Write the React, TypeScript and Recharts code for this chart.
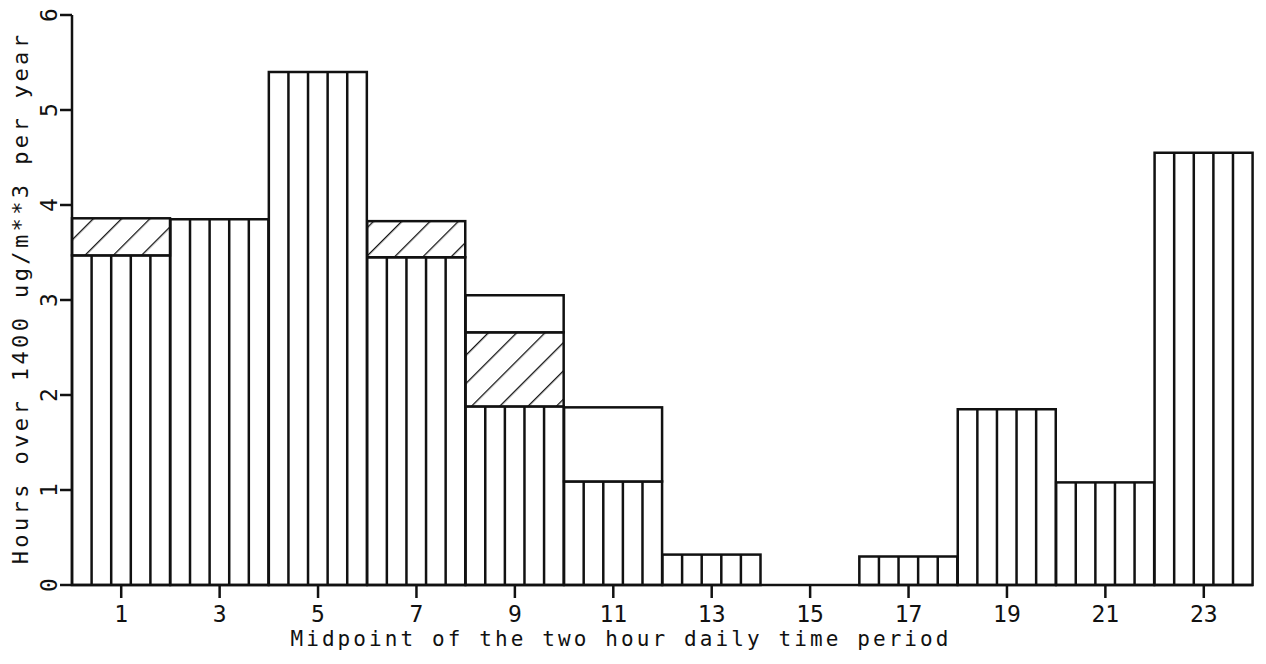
import { BarChart, Bar, XAxis, YAxis, Label } from "recharts";

// midpoints of the 2-hour periods
const hours = ["1", "3", "5", "7", "9", "11", "13", "15", "17", "19", "21", "23"];
// vertically striped base segment
const striped = [3.47, 3.85, 5.4, 3.45, 1.88, 1.09, 0.32, 0, 0.3, 1.85, 1.08, 4.55];
// diagonally hatched middle segment
const hatched = [0.39, 0, 0, 0.38, 0.78, 0, 0, 0, 0, 0, 0, 0];
// open (blank) top segment
const open = [0, 0, 0, 0, 0.39, 0.78, 0, 0, 0, 0, 0, 0];
const yTicks = [0, 1, 2, 3, 4, 5, 6];

const data = hours.map((h, i) => ({
  hour: h,
  striped: striped[i],
  hatched: hatched[i],
  open: open[i],
}));

const INK = "#111";
const SW = 2.5;
const FONT = "'DejaVu Sans Mono', 'Liberation Mono', monospace";

function StripedShape({ x, y, width, height }: any) {
  if (!height || height <= 0) return <g />;
  const lines = [1, 2, 3, 4].map((k) => x + (width * k) / 5);
  return (
    <g>
      <rect x={x} y={y} width={width} height={height} fill="#fff" stroke={INK} strokeWidth={SW} />
      {lines.map((lx, i) => (
        <line key={i} x1={lx} x2={lx} y1={y} y2={y + height} stroke={INK} strokeWidth={SW} />
      ))}
    </g>
  );
}

function HatchedShape({ x, y, width, height }: any) {
  if (!height || height <= 0) return <g />;
  return (
    <rect x={x} y={y} width={width} height={height} fill="url(#hatch)" stroke={INK} strokeWidth={SW} />
  );
}

function OpenShape({ x, y, width, height }: any) {
  if (!height || height <= 0) return <g />;
  return <rect x={x} y={y} width={width} height={height} fill="#fff" stroke={INK} strokeWidth={SW} />;
}

function YTick({ x, y, payload }: any) {
  const bx = x - 1;
  return (
    <text x={bx} y={y} transform={`rotate(-90 ${bx} ${y})`} textAnchor="middle"
      fontFamily={FONT} fontSize={23} fill={INK}>
      {payload.value}
    </text>
  );
}

function XTick({ x, y, payload }: any) {
  return (
    <text x={x} y={y + 22} textAnchor="middle" fontFamily={FONT} fontSize={23} fill={INK}>
      {payload.value}
    </text>
  );
}

export default function App() {
  return (
    <div style={{ position: "absolute", left: 0, top: 0, background: "#fff" }}>
      <BarChart width={1266} height={664} data={data} barCategoryGap={0}
        margin={{ top: 15, right: 13, bottom: 49, left: 22 }}>
        <defs>
          <pattern id="hatch" patternUnits="userSpaceOnUse" width={20} height={20}
            patternTransform="rotate(45)">
            <rect width={20} height={20} fill="#fff" />
            <line x1={0} y1={0} x2={0} y2={20} stroke={INK} strokeWidth={2.6} />
          </pattern>
        </defs>
        <XAxis dataKey="hour" height={30} tick={<XTick />} tickLine={{ stroke: INK, strokeWidth: SW }}
          axisLine={{ stroke: INK, strokeWidth: SW }} tickSize={13} interval={0}>
          <Label content={() => (
            <text x={621} y={646} textAnchor="middle" fontFamily={FONT} fontSize={21}
              letterSpacing={3.1} fill={INK}>
              Midpoint of the two hour daily time period
            </text>
          )} />
        </XAxis>
        <YAxis domain={[0, 6]} ticks={yTicks} width={50} tick={<YTick />} tickSize={12}
          tickLine={{ stroke: INK, strokeWidth: SW }} axisLine={{ stroke: INK, strokeWidth: SW }}>
          <Label content={() => (
            <text x={28} y={298} transform="rotate(-90 28 298)" textAnchor="middle"
              fontFamily={FONT} fontSize={22} letterSpacing={3.4} fill={INK}>
              Hours over 1400 ug/m**3 per year
            </text>
          )} />
        </YAxis>
        <Bar dataKey="striped" stackId="a" shape={<StripedShape />} isAnimationActive={false} />
        <Bar dataKey="hatched" stackId="a" shape={<HatchedShape />} isAnimationActive={false} />
        <Bar dataKey="open" stackId="a" shape={<OpenShape />} isAnimationActive={false} />
      </BarChart>
    </div>
  );
}
